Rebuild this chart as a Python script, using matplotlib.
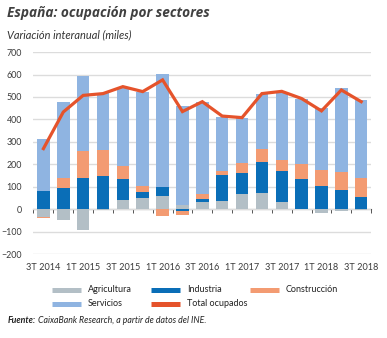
import matplotlib
matplotlib.use("Agg")
import matplotlib.pyplot as plt
from matplotlib.lines import Line2D
import numpy as np

# Quarterly year-on-year change in employment by sector (thousands)
quarters = ["3T 2014", "4T 2014", "1T 2015", "2T 2015", "3T 2015", "4T 2015",
            "1T 2016", "2T 2016", "3T 2016", "4T 2016", "1T 2017", "2T 2017",
            "3T 2017", "4T 2017", "1T 2018", "2T 2018", "3T 2018"]
agricultura = [-33, -49, -92, -4, 42, 50, 58, 19, 33, 36, 70, 71, 33, 2, -15, -9, -4]
industria = [82, 96, 141, 150, 93, 26, 41, -8, 13, 115, 90, 140, 138, 133, 105, 85, 55]
construccion = [-7, 42, 119, 114, 59, 26, -30, -16, 24, 21, 48, 58, 49, 65, 70, 83, 84]
servicios = [229, 341, 333, 255, 345, 422, 505, 441, 409, 240, 199, 243, 299, 290, 278, 372, 349]
total = [270, 433, 507, 515, 546, 524, 576, 435, 479, 415, 408, 515, 525, 493, 438, 531, 479]

series_names = ["Agricultura", "Industria", "Construcción", "Servicios"]
series_values = [agricultura, industria, construccion, servicios]
series_colors = ["#B3BFC6", "#0A6EB7", "#F39B72", "#8FB4E1"]
line_color = "#E5532B"
text_color = "#3a3a3a"

FONT = ["Lato", "DejaVu Sans"]
TITLE_FONT = ["Open Sans", "DejaVu Sans"]
plt.rcParams["font.family"] = FONT

fig = plt.figure(figsize=(3.87, 3.38), dpi=100)
ax = fig.add_axes([0.085, 0.248, 0.874, 0.598])

x = np.arange(len(quarters))
pos_base = np.zeros(len(quarters))
neg_base = np.zeros(len(quarters))
for name, vals, col in zip(series_names, series_values, series_colors):
    v = np.array(vals, dtype=float)
    pos = np.where(v > 0, v, 0)
    neg = np.where(v < 0, v, 0)
    ax.bar(x, pos, bottom=pos_base, width=0.63, color=col, zorder=3, linewidth=0)
    ax.bar(x, neg, bottom=neg_base, width=0.63, color=col, zorder=3, linewidth=0)
    pos_base += pos
    neg_base += neg

ax.plot(x, total, color=line_color, lw=2.3, zorder=4, solid_joinstyle="miter")

ax.set_xlim(-0.53, 16.5)
ax.set_ylim(-200, 700)
ax.set_yticks(np.arange(-200, 701, 100))
ax.yaxis.grid(True, color="#DCDCDC", lw=1.0, zorder=0)
ax.set_axisbelow(True)
for s in ax.spines.values():
    s.set_visible(False)
ax.tick_params(axis="y", length=0, pad=8, labelsize=6.4, labelcolor=text_color)
ax.set_xticks(x[::2])
ax.set_xticklabels(quarters[::2])
ax.tick_params(axis="x", length=0, pad=6, labelsize=6.6, labelcolor=text_color)

# zero line with category separators
zero_axis = ax.secondary_xaxis(0, transform=ax.transData)
zero_axis.spines["bottom"].set_color("#555555")
zero_axis.spines["bottom"].set_linewidth(0.8)
zero_axis.set_xticks(np.arange(len(quarters) + 1) - 0.5)
zero_axis.set_xticklabels([])
zero_axis.tick_params(axis="x", direction="out", length=3, width=0.7, color="#555555")

# titles
fig.text(0.019, 0.950, "España: ocupación por sectores", fontsize=9.8,
         fontweight="bold", fontstyle="italic", color="#404040", family=TITLE_FONT)
fig.text(0.019, 0.887, "Variación interanual (miles)", fontsize=7.9,
         fontstyle="italic", color="#333333")

# legend
legend_items = [
    ("Agricultura", series_colors[0], 52, 290),
    ("Industria", series_colors[1], 151, 290),
    ("Construcción", series_colors[2], 250, 290),
    ("Servicios", series_colors[3], 52, 304),
    ("Total ocupados", line_color, 151, 304),
]
W, H = 387, 338
for label, col, px, py in legend_items:
    fy = 1 - py / H
    fig.add_artist(Line2D([px / W, (px + 29) / W], [fy, fy], color=col, lw=3.6,
                          solid_capstyle="butt", transform=fig.transFigure))
    fig.text((px + 36) / W, fy, label, fontsize=6.5, va="center", color="#222222")

# source note: bold lead-in followed by the citation
lead = fig.text(0.019, 0.043, "Fuente:", fontsize=6.3, fontweight="bold",
                fontstyle="italic", color="#222222")
fig.canvas.draw()
bb = lead.get_window_extent(fig.canvas.get_renderer())
fig.text(bb.x1 / W + 0.006, 0.043, "CaixaBank Research, a partir de datos del INE.",
         fontsize=6.3, fontstyle="italic", color="#222222")

fig.savefig("out.png", dpi=100)
